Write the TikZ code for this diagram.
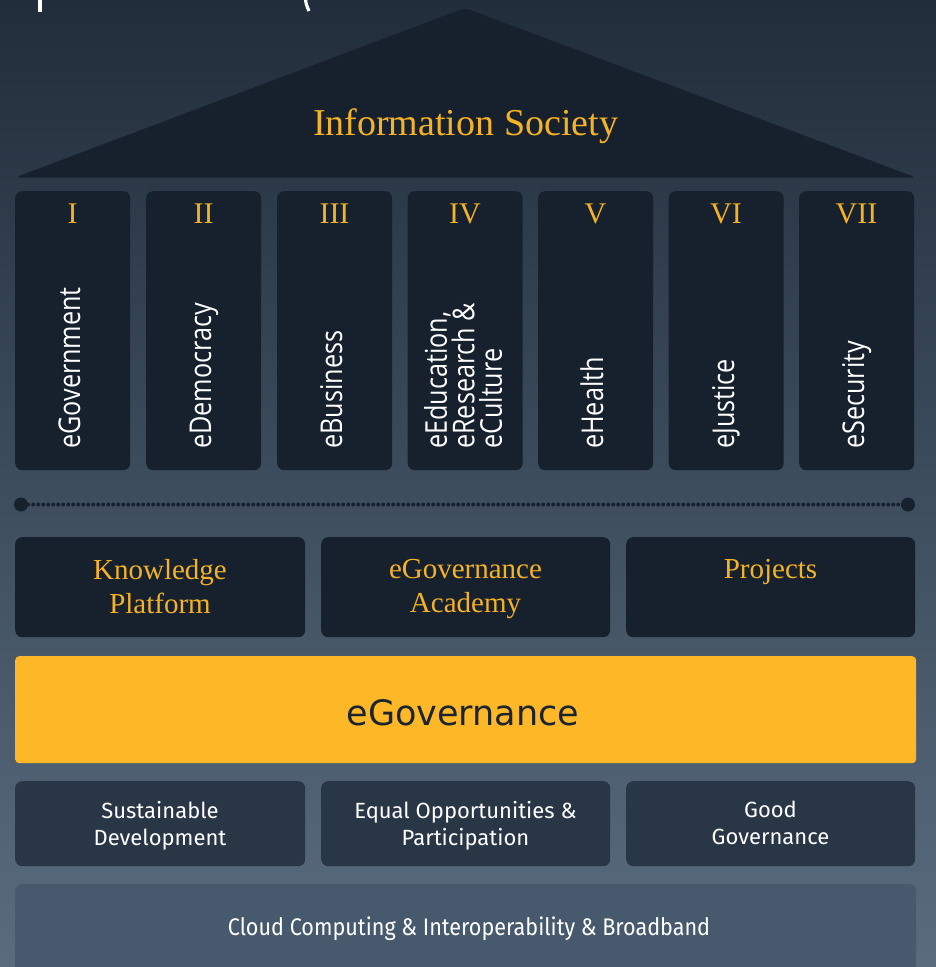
\documentclass[tikz,border=0pt]{standalone}
\usepackage{fontspec}
\setmainfont{Liberation Serif}
\newfontfamily\pillarfont[FakeStretch=0.84]{Open Sans}
\newfontfamily\dinfont{Fira Sans}
\newfontfamily\dinnarrow[FakeStretch=0.9]{Fira Sans}
\newfontfamily\bandfont{DejaVu Sans}
\usetikzlibrary{calc}
\definecolor{bgtop}{HTML}{212D3B}
\definecolor{bgbot}{HTML}{596C7E}
\definecolor{darkfill}{HTML}{17212D}
\definecolor{midfill}{HTML}{283646}
\definecolor{lowfill}{HTML}{475A6D}
\definecolor{bandfill}{HTML}{FDB727}
\definecolor{goldtxt}{HTML}{F4B224}
\definecolor{bandtxt}{HTML}{1B2530}
\tikzset{
  pillarbox/.style={fill=darkfill, rounded corners=7pt, minimum width=115pt, minimum height=279pt, inner sep=0pt, anchor=north west},
  topbox/.style={fill=darkfill, rounded corners=7pt, minimum height=100pt, inner sep=0pt, anchor=north west},
  lowbox/.style={fill=midfill, rounded corners=7pt, minimum height=85pt, inner sep=0pt, anchor=north west},
  numeral/.style={text=goldtxt, font=\fontsize{30}{30}\selectfont, inner sep=0pt, anchor=base},
  pillartext/.style={text=white, font=\pillarfont\fontsize{30}{27.5}\selectfont, inner sep=0pt, rotate=90, align=left},
  goldlabel/.style={text=goldtxt, font=\fontsize{29}{34}\selectfont, inner sep=0pt, align=center, anchor=north},
  whitelabel/.style={text=white, font=\dinfont\fontsize{22}{27}\selectfont, inner sep=0pt, align=center, anchor=north},
  dotend/.style={circle, fill=darkfill, minimum size=14pt, inner sep=0pt},
  beads/.style={draw=darkfill, line width=4pt, line cap=round, dash pattern=on 0pt off 5pt},
}
\begin{document}
\begin{tikzpicture}[x=1pt, y=-1pt]
\useasboundingbox (0,0) rectangle (936,967);
\shade[top color=bgtop, bottom color=bgbot] (0,0) rectangle (936,967);
% cut-off title fragments
\draw[white, line width=3.5pt] (40,-2) -- (40,12);
\draw[white, line width=3.2pt] (305.5,-2) .. controls (306,4) .. (309,11);
% roof
\fill[darkfill, rounded corners=5pt] (15,177.5) -- (465,8) -- (916,177.5) -- cycle;
\node[text=goldtxt, font=\fontsize{38}{38}\selectfont, inner sep=0pt, anchor=base] (roof) at (465.5,135) {Information Society};
% pillars
\foreach \i/\x/\num in {1/15/I, 2/146/II, 3/277/III, 4/407.5/IV, 5/538/V, 6/668.5/VI, 7/799/VII}{
  \node[pillarbox] (p\i) at (\x,191) {};
  \node[numeral] (n\i) at ({\x+57.5},223) {\num};
}
\node[pillartext, anchor=base west] (t1) at (80,449) {eGovernment};
\node[pillartext, anchor=base west] (t2) at (211,449) {eDemocracy};
\node[pillartext, anchor=base west] (t3) at (342,449) {eBusiness};
\node[pillartext, anchor=west] (t4) at (463,449) {eEducation,\\eResearch \&\\eCulture};
\node[pillartext, anchor=base west] (t5) at (603,449) {eHealth};
\node[pillartext, anchor=base west] (t6) at (734,449) {eJustice};
\node[pillartext, anchor=base west] (t7) at (864,449) {eSecurity};
% dotted connector
\node[dotend] (dl) at (21,504.5) {};
\node[dotend] (dr) at (908,504.5) {};
\draw[beads] (dl) -- (dr);
% top row boxes
\node[topbox, minimum width=290pt] (kp) at (15,537) {};
\node[topbox, minimum width=289pt] (ga) at (321,537) {};
\node[topbox, minimum width=289pt] (pr) at (626,537) {};
\node[goldlabel] (kpt) at (160,559) {Knowledge\\Platform};
\node[goldlabel] (gat) at (465.5,559) {eGovernance\\Academy};
\node[goldlabel] (prt) at (770.5,559) {Projects};
% band
\node[fill=bandfill, rounded corners=4pt, minimum width=901pt, minimum height=107pt, inner sep=0pt, anchor=north west] (band) at (15,656) {};
\node[text=bandtxt, font=\bandfont\fontsize{35}{35}\selectfont, inner sep=0pt, anchor=base] (bandt) at (463,725) {eGovernance};
% lower row boxes
\node[lowbox, minimum width=290pt] (sd) at (15,781) {};
\node[lowbox, minimum width=289pt] (eo) at (321,781) {};
\node[lowbox, minimum width=289pt] (gg) at (626,781) {};
\node[whitelabel] (sdt) at (160,801) {Sustainable\\Development};
\node[whitelabel] (eot) at (465.5,801) {Equal Opportunities \&\\Participation};
\node[whitelabel] (ggt) at (770.5,801) {Good\\Governance};
% base
\node[fill=lowfill, rounded corners=7pt, minimum width=901pt, minimum height=120pt, inner sep=0pt, anchor=north west] (base) at (15,884) {};
\node[text=white, font=\dinnarrow\fontsize{24}{24}\selectfont, inner sep=0pt, anchor=base] (baset) at (469,935) {Cloud Computing \& Interoperability \& Broadband};
\end{tikzpicture}
\end{document}
